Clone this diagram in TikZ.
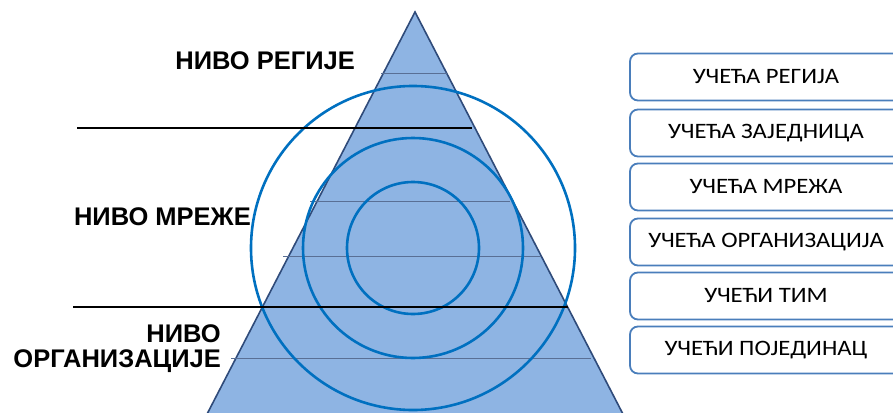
\documentclass[tikz,border=0pt]{standalone}
\usepackage{fontspec}
\setmainfont{Liberation Sans}
\newfontfamily\boxfont{Carlito}[FakeStretch=1.12]
\usetikzlibrary{positioning}

\definecolor{pyrfill}{HTML}{8EB4E3}
\definecolor{pyredge}{HTML}{2F4B7A}
\definecolor{ringblue}{HTML}{0070C0}
\definecolor{boxedge}{HTML}{4A7EBB}

\begin{document}
\begin{tikzpicture}[
  x=1pt, y=-1pt,
  lvl/.style={font=\fontsize{25.5}{29}\selectfont\bfseries, inner sep=0pt, align=right},
  lbox/.style={
    draw=boxedge, fill=white, rounded corners=8pt, line width=1.8pt,
    minimum width=272pt, minimum height=47pt,
    font=\boxfont\fontsize{22}{26}\selectfont, inner sep=0pt,
  },
  ring/.style={draw=ringblue, line width=2.6pt},
  band/.style={draw=pyredge!80, line width=0.9pt},
  split/.style={draw=black, line width=2.4pt},
]
\clip (0,0) rectangle (893,412);

% ===== PYRAMID =====
\coordinate (apex) at (415,12);
\coordinate (bl) at (205,418);
\coordinate (br) at (625,418);
\filldraw[fill=pyrfill, draw=pyredge, line width=1.6pt] (apex) -- (br) -- (bl) -- cycle;

% ===== BANDS =====
\draw[band] (381,73) -- (447,73);
\draw[band] (310,201) -- (510,201);
\draw[band] (283,256) -- (541,256);
\draw[band] (231,358) -- (591,358);

% ===== RINGS =====
\coordinate (mid) at (413,248);
\draw[ring] (mid) circle[radius=66];
\draw[ring] (mid) circle[radius=110];
\draw[ring] (mid) circle[radius=162];

% ===== LEVEL LINES =====
\coordinate (top0) at (77,128);
\coordinate (top1) at (472,128);
\coordinate (low0) at (73,307);
\coordinate (low1) at (568,307);
\draw[split] (top0) -- (top1);
\draw[split] (low0) -- (low1);

% ===== LEVEL LABELS =====
\node[lvl, anchor=east] (reg) at (355,61) {НИВО РЕГИЈЕ};
\node[lvl, anchor=east] (net) at (251,217) {НИВО МРЕЖЕ};
\node[lvl, anchor=east] (org) at (221,349) {НИВО\\[-4pt]ОРГАНИЗАЦИЈЕ};

% ===== LEARNING BOXES =====
\node[lbox] (b1) at (766,77) {УЧЕЋА РЕГИЈА};
\node[lbox] (b2) at (766,133) {УЧЕЋА ЗАЈЕДНИЦА};
\node[lbox] (b3) at (766,187) {УЧЕЋА МРЕЖА};
\node[lbox] (b4) at (766,242) {УЧЕЋА ОРГАНИЗАЦИЈА};
\node[lbox] (b5) at (766,296) {УЧЕЋИ ТИМ};
\node[lbox] (b6) at (766,350) {УЧЕЋИ ПОЈЕДИНАЦ};

\end{tikzpicture}
\end{document}
